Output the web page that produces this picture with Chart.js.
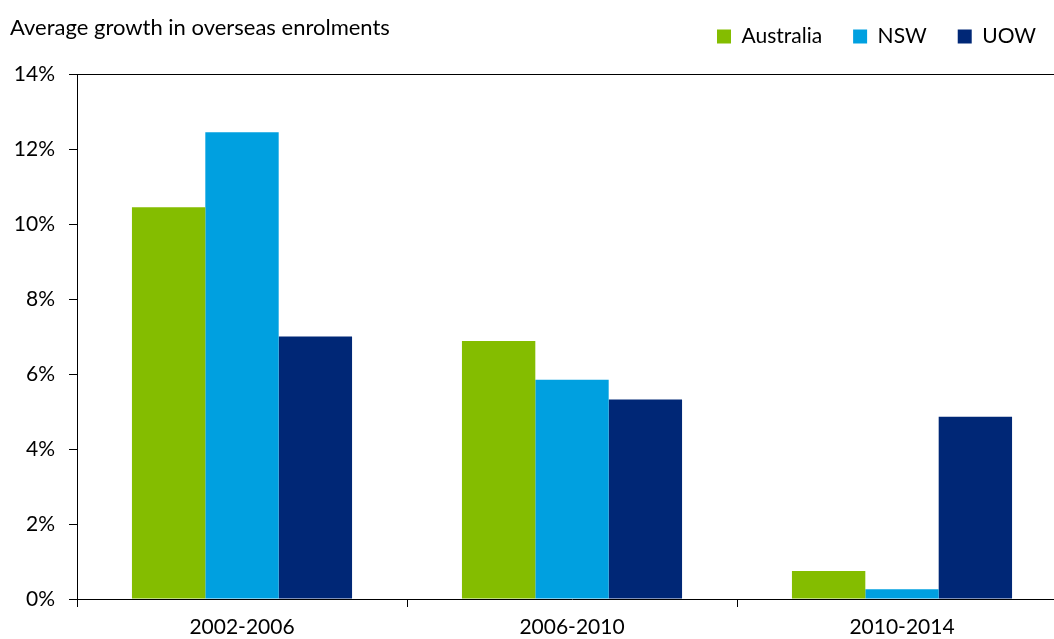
<!DOCTYPE html>
<html><head><meta charset="utf-8">
<script src="https://cdn.jsdelivr.net/npm/chart.js@4/dist/chart.umd.min.js"></script>
<style>html,body{margin:0;padding:0;background:#fff;overflow:hidden;}#wrap{width:1054px;height:639px;overflow:hidden;}</style>
</head><body><div id="wrap"><canvas id="c" width="1067" height="639"></canvas></div>
<script>
const categories = ["2002-2006", "2006-2010", "2010-2014"];
const australia = [10.45, 6.88, 0.75];
const nsw = [12.45, 5.85, 0.26];
const uow = [7.0, 5.32, 4.86];
const yTicks = [0, 2, 4, 6, 8, 10, 12, 14];
const chartTitle = "Average growth in overseas enrolments";

const FONT = "Lato, 'Open Sans', sans-serif";

const layoutTweaks = {
  id: 'layoutTweaks',
  beforeUpdate(chart) {
    const lg = chart.legend;
    if (lg && !lg._patched) {
      const orig = lg.fit;
      lg.fit = function () { orig.call(this); this.height = 74; };
      lg._patched = true;
    }
  },
  afterLayout(chart) {
    const lg = chart.legend;
    if (lg) { lg.top -= 5; }
  },
  afterDraw(chart) {
    const ctx = chart.ctx, a = chart.chartArea;
    ctx.save();
    ctx.strokeStyle = '#000'; ctx.lineWidth = 1;
    ctx.beginPath(); ctx.moveTo(a.left - 8, a.top + 0.5); ctx.lineTo(a.right, a.top + 0.5); ctx.stroke();
    ctx.fillStyle = '#000';
    ctx.font = "22px " + FONT;
    ctx.textBaseline = 'middle'; ctx.textAlign = 'left';
    ctx.fillText(chartTitle, 10, 28);
    ctx.restore();
  }
};

new Chart(document.getElementById('c'), {
  type: 'bar',
  data: {
    labels: categories,
    datasets: [
      { label: 'Australia', data: australia, backgroundColor: '#84BD00' },
      { label: 'NSW', data: nsw, backgroundColor: '#00A0E0' },
      { label: 'UOW', data: uow, backgroundColor: '#002776' }
    ]
  },
  options: {
    responsive: false, animation: false,
    layout: { padding: 0 },
    plugins: {
      legend: {
        position: 'top', align: 'end',
        labels: { font: { size: 21, family: FONT }, color: '#000', boxWidth: 14, boxHeight: 14, padding: 31 },
        onClick: null
      },
      tooltip: { enabled: false }
    },
    datasets: { bar: { categoryPercentage: 0.667, barPercentage: 1.0 } },
    scales: {
      x: {
        grid: { display: true, drawOnChartArea: false, drawTicks: true, tickLength: 8, color: '#000', offset: true },
        border: { display: true, color: '#000', width: 1 },
        ticks: { font: { size: 21, family: FONT }, color: '#000', padding: 8 },
        afterFit(s) { s.height = 40; }
      },
      y: {
        min: 0, max: 14,
        afterBuildTicks(s) { s.ticks = yTicks.map(v => ({ value: v })); },
        grid: { display: true, drawOnChartArea: false, drawTicks: true, tickLength: 8, color: '#000' },
        border: { display: true, color: '#000', width: 1 },
        ticks: { font: { size: 21, family: FONT }, color: '#000', padding: 14, callback: v => v + '%' },
        afterFit(s) { s.width = 77; }
      }
    }
  },
  plugins: [layoutTweaks]
});
</script></body></html>
